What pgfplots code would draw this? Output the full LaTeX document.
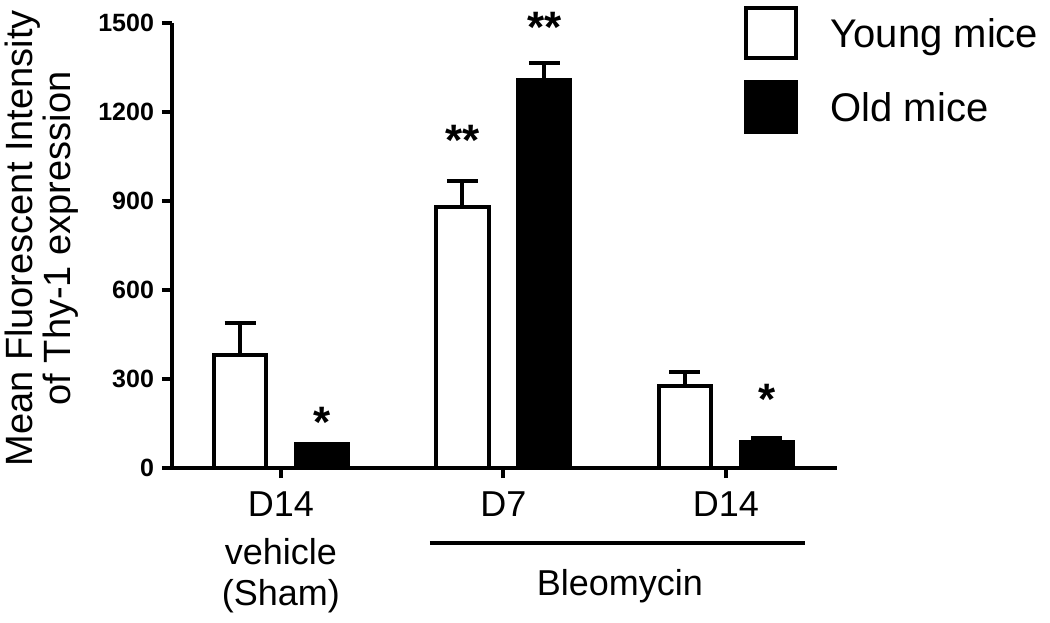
\documentclass[border=0pt]{standalone}
\usepackage{fontspec}
\setmainfont{Liberation Sans}
\usepackage{pgfplots}
\pgfplotsset{compat=1.18}

\begin{document}
\begin{tikzpicture}
\path[use as bounding box] (-86pt,-77pt) rectangle (439pt,234pt);
\begin{axis}[
  at={(0pt,0pt)}, anchor=south west, scale only axis,
  width=332.5pt, height=222.5pt,
  xmin=-0.49, xmax=2.5, ymin=0, ymax=1500,
  clip=false,
  ybar=14.8pt, bar width=0.235,
  axis x line*=bottom, axis y line*=left,
  axis line style={line width=2pt, -},
  ytick={0,300,600,900,1200,1500},
  xtick={0,1,2}, xticklabels={D14,D7,D14},
  tick style={line width=2pt, black},
  major tick length=5pt,
  tick align=outside,
  yticklabel style={font=\fontsize{12.5}{14}\selectfont\bfseries, xshift=-0.5pt},
  xticklabel style={font=\fontsize{18}{20}\selectfont, yshift=-3.5pt},
  /pgf/number format/assume math mode=true,
  /pgf/number format/1000 sep={},
  ylabel={Mean Fluorescent Intensity\\of Thy-1 expression},
  ylabel style={at={(axis description cs:-0.196,0.516)}, anchor=center, align=center, font=\fontsize{19}{19}\selectfont},
  legend style={at={(axis description cs:0.859,1.0394)}, anchor=north west, draw=none, fill=none, inner sep=0pt,
    row sep=10.25pt, column sep=0pt, font=\fontsize{20}{22}\selectfont,
    nodes={inner sep=0pt, anchor=west, text depth=0pt}},
  legend cell align=left,
]
\addplot[fill=white, draw=black, line width=2pt, line join=miter,
  legend image code/.code={\draw[line width=2pt, fill=white, draw=black] (0pt,-12.5pt) rectangle (25pt,12.5pt); \path (41.5pt,0pt);},
  error bars/.cd, y dir=plus, y explicit, error mark=|,
  error bar style={line width=2pt, black},
  error mark options={line width=2pt, mark size=7.75pt, black}]
  coordinates {(0,380) +- (0,110) (1,880) +- (0,88) (2,275) +- (0,50)};
\addlegendentry{Young mice}
\addplot[fill=black, draw=black, line width=2pt, line join=miter,
  legend image code/.code={\draw[line width=2pt, fill=black, draw=black] (0pt,-12.5pt) rectangle (25pt,12.5pt); \path (41.5pt,0pt);},
  error bars/.cd, y dir=plus, y explicit, error mark=|,
  error bar style={line width=2pt, black},
  error mark options={line width=2pt, mark size=7.75pt, black}]
  coordinates {(0,82) +- (0,0) (1,1308) +- (0,57) (2,88) +- (0,13)};
\addlegendentry{Old mice}

\node[anchor=base, font=\fontsize{22}{22}\selectfont\bfseries] at (axis cs:0.184,104) {*};
\node[anchor=base, font=\fontsize{22}{22}\selectfont\bfseries] at (axis cs:0.816,1055) {**};
\node[anchor=base, font=\fontsize{22}{22}\selectfont\bfseries] at (axis cs:1.184,1433) {**};
\node[anchor=base, font=\fontsize{22}{22}\selectfont\bfseries] at (axis cs:2.184,179) {*};

\node[font=\fontsize{18}{20}\selectfont] at ([yshift=-42pt]axis cs:0,0) {vehicle};
\node[font=\fontsize{18}{20}\selectfont] at ([yshift=-64pt]axis cs:0,0) {(Sham)};
\draw[line width=2pt] ([yshift=-37.5pt]axis cs:0.67,0) -- ([yshift=-37.5pt]axis cs:2.355,0);
\node[font=\fontsize{18}{20}\selectfont] at ([yshift=-59pt]axis cs:1.524,0) {Bleomycin};
\end{axis}
\end{tikzpicture}
\end{document}
